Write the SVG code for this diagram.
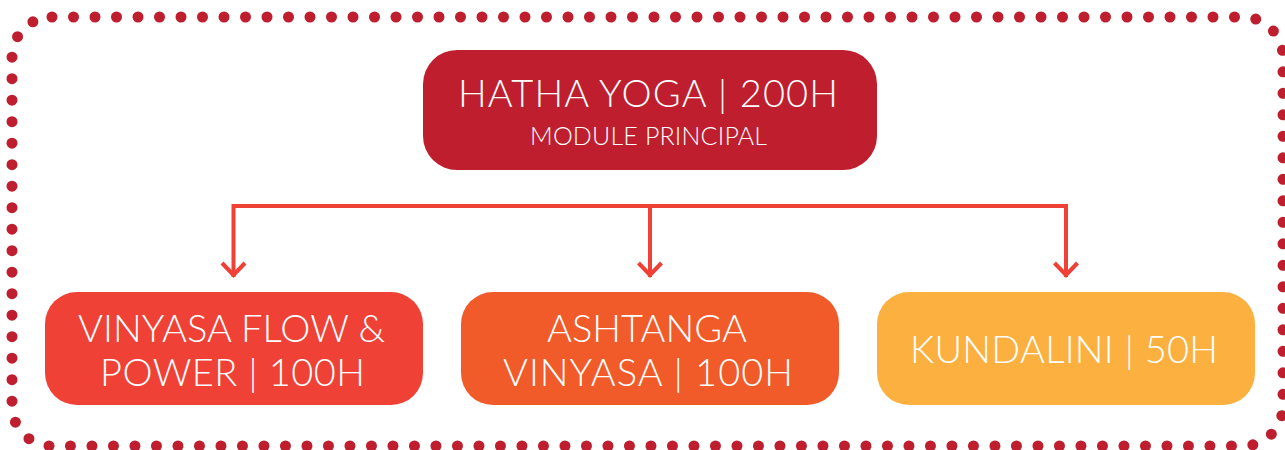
<svg xmlns="http://www.w3.org/2000/svg" width="1285" height="450" viewBox="0 0 1285 450">
<style>
.frame{fill:none;stroke:#BE1E2D;stroke-width:11;stroke-linecap:round;stroke-dasharray:0 21.5}
.node{stroke:none}
.t{fill:#FFFFFF;font-family:"Lato","Liberation Sans",Arial,sans-serif;font-weight:300;text-anchor:middle}
.big{font-size:38px}
.small{font-size:25px}
.conn{fill:none;stroke:#EF4136;stroke-width:4;stroke-linejoin:miter}
.head{fill:none;stroke:#EF4136;stroke-width:4}
</style>
<rect class="frame" x="12" y="17" width="1271" height="429" rx="40" ry="40"/>
<g id="connectors">
<path class="conn" d="M233.5,277 V206 H1066 V277"/>
<path class="conn" d="M650,206 V277"/>
<path class="head" d="M222,263 L233.5,275 L245,263"/>
<path class="head" d="M638.5,263 L650,275 L661.5,263"/>
<path class="head" d="M1054.5,263 L1066,275 L1077.5,263"/>
</g>
<g id="hatha">
<rect class="node" x="423" y="50" width="454" height="120" rx="34" fill="#BE1E2D"/>
<text class="t big" x="648" y="107" textLength="380" lengthAdjust="spacing">HATHA YOGA | 200H</text>
<text class="t small" x="648.5" y="145" textLength="237" lengthAdjust="spacing">MODULE PRINCIPAL</text>
</g>
<g id="vinyasa">
<rect class="node" x="45" y="292" width="378" height="113" rx="32" fill="#EF4136"/>
<text class="t big" x="231.5" y="342" textLength="307" lengthAdjust="spacing">VINYASA FLOW &amp;</text>
<text class="t big" x="232.5" y="386" textLength="265" lengthAdjust="spacing">POWER | 100H</text>
</g>
<g id="ashtanga">
<rect class="node" x="461" y="292" width="378" height="113" rx="32" fill="#F15A29"/>
<text class="t big" x="647" y="342" textLength="200" lengthAdjust="spacing">ASHTANGA</text>
<text class="t big" x="648" y="386" textLength="290" lengthAdjust="spacing">VINYASA | 100H</text>
</g>
<g id="kundalini">
<rect class="node" x="877" y="292" width="378" height="113" rx="32" fill="#FBB040"/>
<text class="t big" x="1064" y="363" textLength="308" lengthAdjust="spacing">KUNDALINI | 50H</text>
</g>
</svg>
